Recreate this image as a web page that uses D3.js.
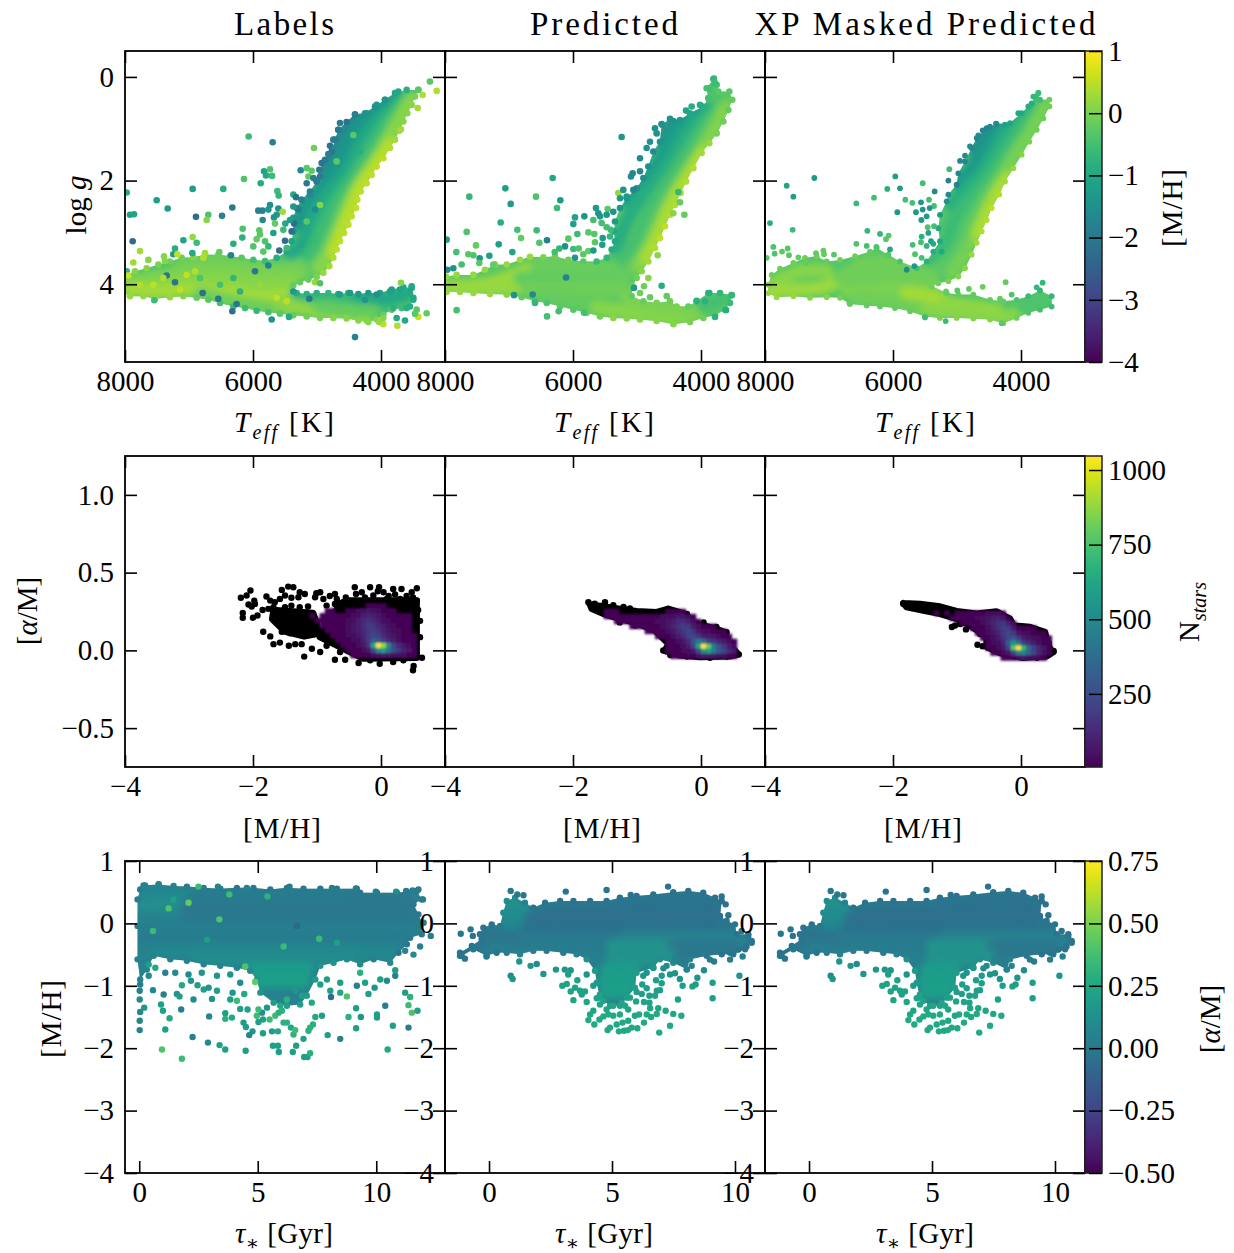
<!DOCTYPE html>
<html><head><meta charset="utf-8">
<style>html,body{margin:0;padding:0;background:#fff}svg{display:block}</style>
<script src="https://cdn.jsdelivr.net/npm/d3@7"></script></head><body>
<div id="chart"></div>
<script>
// ---- tick labels / titles
const titles = ["Labels","Predicted","XP Masked Predicted"];
const teffTicks = [8000,6000,4000];
const loggTicks = [0,2,4];
const mhTicks = [-4,-2,0];
const alphaTicks = [-0.5,0,0.5,1];
const ageTicks = [0,5,10];
const mhYTicks = [-4,-3,-2,-1,0,1];
const cbMhTicks = [-4,-3,-2,-1,0,1];
const cbCountTicks = [250,500,750,1000];
const cbAlphaTicks = [-0.5,-0.25,0,0.25,0.5,0.75];

// ---- Kiel diagram: stars along the cloud boundary [Teff,logg,[M/H]]
const hrEdgeLabels = [[3417,.25,-.3],[3469,.38,0],[3521,.54,.1],[3589,.70,.1],[3651,.86,.1],[3714,1.04,.2],[3781,1.21,.3],[3860,1.37,.4],[3964,1.57,.5],[4068,1.73,.5],[4146,1.89,.5],[4224,2.05,.5],[4318,2.21,.5],[4370,2.37,.5],[4391,2.53,.5],[4458,2.69,.5],[4510,2.85,.5],[4578,3.01,.5],[4641,3.17,.5],[4693,3.33,.5],[4745,3.49,.4],[4807,3.65,.3],[4901,3.78,.2],[5005,3.86,0],[5135,3.91,-.2],[5266,3.96,-.2],[5370,4.02,-.2],[5318,4.17,-.9],[5161,4.19,-.8],[5005,4.17,-.8],[4823,4.17,-.7],[4667,4.19,-1],[4510,4.17,-1],[4354,4.19,-1.3],[4198,4.17,-1.3],[4016,4.17,-1.2],[3833,4.10,-1.1],[3651,4.06,-1],[3521,4.07,-1],[3495,4.26,-1],[3547,4.43,-.9],[3677,4.46,-.6],[3833,4.49,-.3],[3964,4.59,-.2],[4068,4.68,.1],[4198,4.73,.1],[4354,4.70,.1],[4537,4.66,.1],[4745,4.65,.1],[4953,4.65,0],[5161,4.62,-.1],[5370,4.60,-.2],[5578,4.57,-.3],[5760,4.54,-.5],[5943,4.51,-.7],[6125,4.46,-.6],[6307,4.43,-.6],[6516,4.36,-.5],[6698,4.30,-.3],[6880,4.26,-.2],[7088,4.23,.1],[7297,4.25,.2],[7531,4.28,.2],[7713,4.23,.2],[7922,4.23,.2],[7984,4.14,.2],[7984,3.82,.3],[7844,3.75,.1],[7661,3.69,.1],[7479,3.62,0],[7297,3.56,-.1],[7115,3.49,-.1],[6932,3.48,.1],[6750,3.43,.1],[6542,3.43,-.1],[6359,3.46,-.2],[6177,3.49,-.3],[5995,3.53,-.5],[5812,3.55,-.6],[5630,3.49,-.9],[5474,3.37,-1],[5396,3.17,-1.1],[5370,2.98,-1.3],[5370,2.72,-1.3],[5318,2.53,-1.6],[5240,2.37,-1.8],[5110,2.21,-1.9],[5005,2.02,-2],[4964,1.79,-2],[4875,1.60,-2],[4771,1.44,-2],[4719,1.21,-2],[4667,1.02,-2],[4537,.87,-2.1],[4406,.72,-1.9],[4250,.70,-1.5],[4094,.57,-1.5],[3938,.44,-1.3],[3781,.31,-1.1],[3599,.25,-.8]];
const hrEdgePred = [[3797,.03,-.6],[3755,.15,-.5],[3729,.28,-.3],[3557,.28,-.3],[3511,.44,-.2],[3573,.64,-.2],[3651,.86,-.1],[3755,1.09,0],[3870,1.28,.2],[3990,1.47,.3],[4120,1.76,.4],[4234,2.02,.4],[4318,2.24,.4],[4406,2.47,.4],[4484,2.66,.4],[4563,2.88,.5],[4641,3.11,.5],[4719,3.30,.4],[4823,3.56,.3],[4927,3.75,.1],[5005,3.88,-.1],[5068,4.04,-.1],[5083,4.23,-.2],[4901,4.33,-.2],[4693,4.36,0],[4484,4.33,-.1],[4380,4.43,0],[4198,4.43,-.2],[4068,4.33,-.6],[3886,4.17,-.7],[3703,4.17,-.7],[3521,4.21,-.6],[3547,4.36,-.6],[3625,4.49,-.6],[3781,4.60,-.4],[3964,4.65,-.1],[4172,4.73,0],[4432,4.77,.1],[4693,4.71,.1],[4953,4.68,.1],[5161,4.66,.1],[5370,4.65,.1],[5578,4.62,-.1],[5786,4.55,-.2],[5995,4.49,-.3],[6203,4.43,-.3],[6411,4.36,-.4],[6594,4.33,-.4],[6802,4.25,-.2],[7036,4.20,.1],[7297,4.19,.2],[7557,4.17,.2],[7766,4.15,.2],[7974,4.15,.2],[7984,3.85,.2],[7818,3.82,.2],[7557,3.82,.2],[7375,3.72,.2],[7219,3.62,.1],[7036,3.62,.2],[6828,3.53,.2],[6672,3.47,.2],[6464,3.48,0],[6281,3.46,-.1],[6073,3.53,-.1],[5839,3.56,-.3],[5630,3.56,-.6],[5474,3.49,-.7],[5396,3.33,-.9],[5344,3.17,-1],[5359,2.98,-1],[5344,2.79,-1.3],[5266,2.53,-1.4],[5161,2.34,-1.4],[5005,2.15,-1.5],[4901,1.95,-1.5],[4823,1.73,-1.5],[4745,1.44,-1.6],[4641,1.25,-1.5],[4615,.92,-1.5],[4484,.81,-1.5],[4328,.83,-1.3],[4172,.70,-1],[3964,.57,-.8],[3886,.41,-.5],[3912,.22,-.5]];
const hrEdgeMasked = [[3729,.31,-.6],[3703,.44,-.6],[3557,.44,-.1],[3557,.57,-.1],[3651,.80,-.1],[3755,1.02,-.1],[3870,1.25,0],[3990,1.50,.1],[4120,1.76,.2],[4250,2.02,.3],[4339,2.27,.4],[4458,2.53,.5],[4537,2.76,.4],[4615,2.98,.4],[4693,3.20,.3],[4771,3.43,.2],[4875,3.69,.1],[4979,3.85,.1],[5135,3.94,0],[5292,3.98,-.1],[5396,4.04,-.1],[5161,4.17,-.2],[4979,4.20,-.2],[4745,4.20,-.2],[4484,4.30,-.2],[4276,4.33,-.2],[4068,4.30,-.4],[3886,4.23,-.6],[3703,4.12,-.7],[3521,4.23,-.7],[3521,4.43,-.6],[3703,4.49,-.5],[3886,4.55,-.4],[4068,4.65,-.1],[4276,4.75,0],[4484,4.68,.1],[4745,4.66,.1],[5005,4.65,.1],[5266,4.65,0],[5500,4.62,-.2],[5734,4.52,-.2],[5969,4.46,-.2],[6203,4.43,-.2],[6411,4.41,-.2],[6672,4.38,-.3],[6828,4.26,0],[7036,4.25,.1],[7297,4.26,.1],[7557,4.23,.2],[7818,4.25,.2],[7948,4.17,.2],[7948,4.01,.1],[7896,3.82,-.1],[7766,3.70,-.1],[7557,3.59,-.1],[7375,3.49,-.1],[7193,3.46,-.1],[7036,3.56,-.2],[6828,3.53,-.1],[6594,3.46,-.1],[6359,3.37,-.2],[6255,3.30,-.3],[6073,3.43,-.3],[5891,3.56,-.4],[5630,3.69,-.5],[5474,3.56,-.8],[5370,3.37,-.9],[5266,3.17,-1],[5292,2.92,-1],[5266,2.66,-1.3],[5161,2.40,-1.5],[5135,2.27,-1.6],[5005,2.08,-1.8],[4979,1.86,-1.7],[4875,1.63,-1.7],[4771,1.37,-1.7],[4693,1.18,-1.7],[4537,.99,-1.7],[4380,.91,-1.6],[4172,.89,-1.1],[3990,.70,-1],[3833,.51,-.9],[3781,.38,-.6]];
// ---- Kiel diagram: dense ridges [ [M/H], [[Teff,logg],...] ]
const hrRidgesLabels = [
[-1.75,[[4016,.54],[4432,.83],[4641,1.18],[4797,1.57],[4901,1.89]]],
[-1.35,[[3781,.41],[4146,.70],[4458,1.12],[4667,1.63],[4901,2.08],[5188,2.47],[5318,2.85]]],
[-1.0,[[3651,.41],[4042,.83],[4328,1.31],[4537,1.82],[4797,2.21],[5031,2.60],[5214,3.17],[5396,3.43]]],
[-0.6,[[3573,.38],[3886,.83],[4172,1.37],[4432,1.92],[4693,2.37],[4901,2.85],[5083,3.37],[5318,3.65]]],
[-0.25,[[3547,.44],[3807,.92],[4042,1.44],[4302,1.92],[4563,2.47],[4745,2.98],[4901,3.43],[5110,3.75]]],
[0.1,[[3521,.44],[3729,.89],[3938,1.37],[4198,1.89],[4432,2.34],[4589,2.85],[4745,3.30],[4953,3.69]]],
[0.45,[[3860,1.31],[4068,1.70],[4302,2.08],[4458,2.53],[4641,3.04],[4745,3.37]]],
[-0.1,[[7141,3.62],[6568,3.53],[5995,3.62],[5578,3.69],[5266,3.65]]],
[0.0,[[7922,3.94],[7401,3.82],[6880,3.75],[6359,3.75],[5786,3.82],[5266,3.82]]],
[0.1,[[7922,4.07],[7401,4.01],[6880,3.91],[6307,3.94],[5734,4.01],[5422,3.94]]],
[0.3,[[7922,4.10],[7401,4.14],[6932,4.10],[6359,4.17],[5839,4.26],[5474,4.20]]],
[-0.1,[[6828,4.17],[6359,4.33],[5891,4.43],[5422,4.52]]],
[0.15,[[5578,4.33],[5161,4.49],[4693,4.59],[4224,4.66]]],
[-0.7,[[5318,4.17],[4849,4.26],[4432,4.36],[3964,4.33],[3599,4.20]]],
[-1.0,[[4328,4.26],[3912,4.26],[3599,4.17]]],
[-0.2,[[4953,4.43],[4537,4.49],[4120,4.52]]]
];
const hrPointsLabels = [
[6068,1.15,-.6],[5693,1.26,-1.9],[5047,1.37,-.1],[4797,1.33,-2.1],[6141,1.97,-.4],[5828,1.82,-1.1],[5734,1.78,-.4],[5797,1.90,-1],[5703,1.91,-.6],[5880,2.05,-.9],[6943,2.16,-1.2],[6464,2.16,-.9],[7974,2.23,-.9],[5620,2.20,-.6],[5599,2.29,-.7],[7505,2.38,-1.2],[7333,2.54,-1.3],[6323,2.52,-2],[5734,2.47,-1.5],[5604,2.54,-1.5],[5917,2.58,-1.8],[5854,2.58,-1.8],[5760,2.56,-1.4],[5536,2.60,.3],[7922,2.66,-1.2],[7859,2.65,-1.1],[6891,2.70,-2.3],[6484,2.68,-1.8],[6698,2.66,-.4],[6724,2.76,.1],[5672,2.71,-1.4],[5849,2.76,-1.6],[5630,2.66,-1.4],[5370,2.27,-.9],[5328,2.32,-2.1],[5255,1.80,-1.7],[5161,1.76,-.3],[5083,1.81,-.3],[5135,1.92,-.2],[5161,2.05,-2],[5656,2.83,-.2],[6161,2.93,-.4],[5901,2.96,-.3],[5495,2.83,-1],[5526,2.95,-.6],[5359,2.83,-2.2],[5396,2.98,-2.2],[7880,3.17,-2.3],[7088,3.15,-1.1],[6943,3.09,.2],[6880,3.20,-.6],[6167,3.10,-.8],[6307,3.22,-.9],[5943,3.13,-.2],[5812,3.17,-.4],[5682,3.01,-1.2],[5500,3.16,-2.2],[5891,3.04,-.3],[7219,3.31,-.9],[7766,3.36,.3],[5995,3.27,-.4],[5760,3.27,-.7],[5589,3.35,-2.2],[5839,3.37,-.3],[5474,3.30,-.6],[7391,3.46,.1],[7245,3.42,-1.3],[7182,3.42,.5],[6948,3.40,-1],[6526,3.38,-.2],[6750,3.40,.3],[6344,3.44,-1.8],[7870,3.58,.3],[7635,3.53,.1],[7375,3.55,.1],[5760,3.64,-1.8],
[3688,3.97,.1],[3521,4.04,-1],[5031,3.96,.2],[4953,3.98,-.4],[5370,4.14,-1.3],[5120,4.28,-2],[3287,4.56,-.2],[3417,4.63,.6],[3443,4.49,-.3],[3469,4.57,-.3],[3755,4.65,-1],[3625,4.70,-1],[3745,4.80,.4],[3964,4.77,.5],[4031,4.73,.2],[4406,5.02,-1.8],[5708,4.68,-1.5],[5438,4.63,-1],[6323,4.52,-2.2],[3235,.09,-.3],[3130,.27,.4],[3349,.35,.4],[3427,.60,.3],[3417,.25,-.3],[3688,1.01,.3],[7974,3.75,-.8],[7948,3.83,.6],[7349,3.83,-2.1],[7219,3.96,-2.1],[6786,4.17,-2.2],[6542,4.28,-2],[6255,4.38,-2],[7542,4.31,-.6],
[4641,.89,-1.9],[4667,1.02,-2],[4745,1.21,-1.9],[4823,1.49,-1.9],[4927,1.66,-2.1],[4953,1.92,-1.9],[5057,1.95,-1.9],[5005,2.0,-1.9],[4406,.73,-1.9],[4224,.70,-1.5],[4068,.54,-1.4],[3938,.44,-1.4],[3729,.28,-1],[5240,2.37,-1.8],[5292,2.56,-1.9],[5370,2.50,-1.3],[5110,2.27,-1.7],[5422,2.76,-1.2],
[4641,4.20,-1.2],[4484,4.17,-1.3],[4250,4.30,-1.4],[4068,4.20,-1.5],[3860,4.14,-1.2],[3703,4.10,-1.1],[3547,4.17,-1],[3495,4.30,-1],[3599,4.46,-.9],[3807,4.46,-.8],[3964,4.65,.1],[4224,4.70,.1],
[6828,3.88,-.4],[6307,3.88,-.7],[5891,4.01,.2],[5630,4.26,.5],[5474,4.33,.5],[7036,3.82,.5],[7141,4.10,.5],[7557,4.01,.5],[7766,4.01,.4],[6516,4.01,-.5],[6203,4.14,-.8],[5969,3.75,-2],[6776,3.49,.4],[6906,3.75,.4],[7401,3.88,.4],
[4432,1.12,-.3],[4693,1.63,-.3],[4328,1.44,-.9],[4953,2.47,.1],[5031,2.56,-1.6],[5161,2.79,-.3],[5161,2.98,-1],[5240,3.24,-1]
];
const hrRidgesPred = [
[-1.5,[[4068,.64],[4484,.93],[4641,1.25]]],
[-1.2,[[3860,.60],[4224,.86],[4537,1.31],[4745,1.76],[4953,2.08],[5161,2.40]]],
[-0.9,[[3729,.54],[4068,.86],[4328,1.31],[4537,1.76],[4797,2.15],[5057,2.53],[5240,2.98],[5318,3.30]]],
[-0.5,[[3625,.48],[3912,.89],[4172,1.37],[4432,1.89],[4693,2.34],[4927,2.85],[5110,3.37],[5422,3.65]]],
[-0.25,[[3599,.48],[3807,.92],[4042,1.44],[4302,1.95],[4563,2.47],[4745,2.92],[4927,3.43],[5161,3.75]]],
[0.05,[[3625,.60],[3755,.99],[3990,1.44],[4198,1.89],[4432,2.34],[4615,2.85],[4797,3.30],[4979,3.65]]],
[0.35,[[3964,1.47],[4172,1.86],[4380,2.27],[4537,2.66],[4693,3.11],[4849,3.49]]],
[-0.4,[[3807,.15],[3833,.31],[3755,.41]]],
[0.25,[[7922,4.04],[7401,4.01],[7036,3.88],[6672,3.69]]],
[0.2,[[7922,4.07],[7349,4.08],[6880,4.07]]],
[-0.15,[[6568,3.62],[6151,3.62],[5734,3.69],[5370,3.69]]],
[-0.2,[[6828,3.88],[6307,3.85],[5786,3.88],[5161,3.82]]],
[-0.1,[[6724,4.10],[6255,4.10],[5734,4.10],[5214,4.07]]],
[-0.2,[[6464,4.26],[6047,4.30],[5630,4.36],[5214,4.46],[4849,4.52]]],
[0.1,[[5630,4.46],[5161,4.55],[4693,4.62],[4328,4.65],[4068,4.55]]],
[0.0,[[5161,4.26],[4849,4.39],[4432,4.46],[4172,4.52]]],
[-0.5,[[3964,4.43],[3755,4.33],[3573,4.26]]]
];
const hrPointsPred = [
[5240,1.16,-1.4],[6318,1.95,-1],[7057,2.15,-1.2],[7620,2.31,-.7],[6578,2.31,-.4],[6198,2.38,-1.3],[6974,2.45,-1.3],[6250,2.53,-.6],[5641,2.53,-1.3],[5458,2.55,-.3],[5969,2.71,-1.1],[5823,2.69,-1.4],[5995,2.84,-1.2],[5682,2.76,-.5],[7130,2.81,-.9],[6870,2.95,-.5],[6568,2.96,-.6],[7661,2.99,-.4],[7974,3.14,-1.2],[6812,3.11,-.2],[6406,3.15,-1.9],[6526,3.20,-.4],[7161,3.23,-1.2],[7516,3.25,-.2],[6073,3.12,-.3],[5932,3.03,-.6],[6125,3.27,-1.5],[6214,3.31,-.7],[6286,3.38,-.5],[5995,3.32,-.6],[5911,3.31,-.4],[6948,3.38,-1.1],[7823,3.38,-.5],[7307,3.45,-1.2],[7458,3.50,-1.4],[7557,3.44,-.4],[7635,3.42,-.3],[7870,3.69,-1.5],[7740,3.62,-.5],[7963,3.72,-1.6],[7245,3.62,-.2],[7464,3.59,-.3],[5969,3.49,-1.4],[5839,3.42,-.3],[5760,3.36,-.2],[5682,3.35,-1.3],[5542,3.24,-1.2],[5536,3.11,-1.3],[5656,3.19,-.3],[5760,3.00,-.3],[5667,3.03,-.3],[5422,3.08,-.7],[5411,2.95,-.6],[5552,2.82,-.5],[5474,2.90,-.5],
[5292,2.24,.2],[5214,2.18,-1.4],[5057,2.18,-1.7],[5266,2.34,-1.3],[5161,2.31,-1.3],[5068,1.86,-1.7],[5094,1.92,-1.6],[4953,1.57,-1.6],[4849,1.37,-1.5],[4797,1.25,-1.5],[4719,.99,-1.5],[4693,1.09,-1.5],[4615,.91,-1.5],[4432,.85,-1.5],[4234,.65,-1.1],[4146,.57,-.9],[4016,.54,-.9],[3807,.04,-.7],[3781,.12,-.6],[3870,.22,-.5],
[4354,2.22,-.7],[4328,2.42,-.2],[4260,2.66,-.2],[4432,2.63,.1],[4677,3.44,.1],[4823,3.88,.1],[4891,4.04,-.1],[4615,4.03,-.9],[5047,4.07,-1.3],[4536,4.23,-.2],[4797,4.25,-.2],[4953,4.17,-.1],[3870,4.17,-.9],[4068,4.32,-.8],[3938,4.33,-.8],[7818,4.50,-.5],[6406,4.62,-.5],[6224,4.52,-.5],[5828,4.55,-.5],[6594,4.36,-.7],[6109,3.87,-1.8],[6630,4.20,-1.6],[6922,4.21,-1.5],[3781,4.63,-.8],[3609,4.50,-.9],[3521,4.21,-.7],[5370,2.60,-1.5],[5474,2.66,-1.4],[5578,2.69,-1.3],[5604,2.63,-1.4],[4953,1.82,-1.7]
];
const hrRidgesMasked = [
[-1.6,[[4354,.99],[4589,1.15],[4719,1.44]]],
[-1.3,[[4068,.80],[4406,1.12],[4641,1.50],[4849,1.86],[4979,2.08]]],
[-0.9,[[3755,.54],[4146,.92],[4380,1.37],[4589,1.82],[4849,2.15],[5083,2.47]]],
[-0.6,[[3651,.51],[3964,.92],[4250,1.44],[4484,1.89],[4745,2.27],[5005,2.66],[5161,3.17],[5396,3.56]]],
[-0.3,[[3625,.54],[3860,.99],[4094,1.44],[4328,1.89],[4589,2.34],[4797,2.79],[5005,3.37],[5318,3.72]]],
[-0.05,[[3625,.57],[3860,1.12],[4068,1.50],[4302,2.02],[4484,2.40],[4667,2.85],[4849,3.37],[5083,3.78]]],
[0.35,[[4198,1.95],[4380,2.27],[4537,2.66],[4667,3.04]]],
[0.1,[[7870,3.98],[7453,3.75],[7036,3.75]]],
[0.25,[[7896,4.14],[7453,4.10],[7036,4.04],[6724,3.82]]],
[-0.1,[[6568,3.62],[6151,3.56],[5786,3.69],[5422,3.82]]],
[-0.1,[[6828,3.88],[6307,3.82],[5839,3.88],[5370,3.94]]],
[0.0,[[6724,4.14],[6255,4.10],[5839,4.10],[5318,4.17]]],
[0.3,[[5786,4.17],[5474,4.23],[5161,4.33]]],
[-0.1,[[6568,4.30],[6099,4.33],[5630,4.49]]],
[0.1,[[5474,4.49],[4953,4.55],[4328,4.64],[4016,4.55]]],
[0.15,[[5161,4.36],[4745,4.43],[4380,4.49]]],
[-0.4,[[3964,4.46],[3755,4.36],[3573,4.33]]]
];
const hrPointsMasked = [
[7229,1.95,-1.3],[7661,2.10,-1.1],[7557,2.31,-1.2],[5964,1.92,-1.2],[6089,2.16,-.8],[5891,2.15,-1.3],[5536,2.05,-.5],[5349,2.21,-1.6],[5120,1.78,-.6],[6297,2.33,-.5],[6573,2.44,-.6],[5807,2.37,-.5],[5698,2.43,-.5],[5563,2.42,-1.4],[5437,2.37,-.5],[5359,2.49,-.5],[5536,2.56,-1.4],[5427,2.53,-1.4],[5641,2.61,-1.3],[5932,2.61,-1.4],[5557,2.76,-1.3],[5474,2.69,-1.3],[7922,2.82,-.9],[7568,2.95,-.6],[6401,2.97,-.7],[6203,3.03,-.7],[6068,3.06,-.3],[6110,3.13,-.3],[6573,3.22,-.4],[6411,3.26,-.5],[6260,3.28,-.4],[6047,3.33,-1],[7870,3.28,-.4],[7646,3.31,-.3],[7849,3.41,-.4],[7734,3.37,-.3],[7625,3.44,-.3],[7974,3.49,-.3],[7203,3.40,-.2],[7088,3.35,-.2],[7078,3.42,-.2],[6922,3.43,-.3],[7479,3.48,-.2],[7349,3.59,-.2],
[5693,3.24,-.5],[5474,3.26,-.7],[5563,3.19,-.5],[5552,3.08,-.8],[5448,3.01,-1.1],[5406,3.17,-1.2],[5370,3.22,-1],[5458,2.90,-.4],[5359,2.88,-.5],[5240,3.37,-1],[5656,3.42,-.4],[5552,3.49,-.5],[5667,3.65,-1.3],[5786,3.72,-1.6],
[5135,2.00,-1.8],[4953,1.62,-1.7],[4875,1.52,-1.6],[4797,1.34,-1.6],[4667,1.13,-1.6],[4599,1.03,-1.7],[4484,.96,-1.7],[4391,.90,-1.6],[4250,.92,-1.2],[4042,.70,-1],[3886,.57,-.9],[3807,.38,-.7],[3729,.31,-.6],
[4240,3.96,-.2],[3662,3.97,-.7],[3755,4.06,-.7],[4599,4.05,-.1],[4813,4.09,-.2],[4995,4.12,-.3],[5172,4.14,-.2],[4146,4.20,-.4],[4328,4.28,-.2],[6682,4.36,-.2],[5177,4.71,-.6],[5500,4.64,-.6],[4302,4.75,-.3]
];

// ---- [alpha/M] vs [M/H]: black underlying scatter and 2D-histogram counts
const alphaCoreLabels = [
[[-1.68,.26],[-1.06,.24],[-.95,.11],[-1.2,.09],[-1.5,.12],[-1.7,.2],[-1.68,.26]],
[[-.641,.30],[-.537,.32],[.557,.32],[.557,-.047],[-.277,-.053],[-.954,.085],[-.641,.30]]
];
const alphaCorePred = [[[-1.735,.295],[-1.526,.282],[-1.266,.267],[-1.005,.252],[-.693,.246],[-.511,.267],[-.25,.235],[-.094,.171],[.192,.145],[.375,.117],[.401,.064],[.505,.011],[.583,-.026],[.453,-.038],[-.016,-.043],[-.328,-.032],[-.563,-.004],[-.511,.043],[-.719,.128],[-1.005,.175],[-1.266,.203],[-1.526,.235],[-1.708,.267],[-1.735,.295]]];
const alphaCoreMasked = [[[-1.839,.303],[-1.578,.299],[-1.266,.282],[-1.005,.252],[-.693,.235],[-.38,.250],[-.172,.203],[-.12,.160],[.14,.150],[.375,.117],[.401,.075],[.453,.011],[.505,-.011],[.401,-.038],[.01,-.047],[-.328,-.017],[-.537,.021],[-.537,.085],[-.797,.160],[-1.005,.203],[-1.266,.235],[-1.526,.256],[-1.787,.278],[-1.839,.303]]];
const alphaPointsLabels = [
[-2.04,.385],[-2.10,.353],[-2.19,.338],[-1.98,.32],[-2.07,.295],[-2.02,.282],[-1.97,.299],[-2.16,.241],[-2.16,.21],[-2.0,.21],[-1.93,.224],[-1.85,.26],[-1.79,.346],[-1.73,.32],[-1.66,.31],[-1.55,.389],[-1.45,.41],[-1.37,.406],[-1.27,.374],[-1.19,.363],[-1.29,.342],[-1.40,.338],[-1.50,.353],[-1.58,.331],[-1.68,.278],[-1.76,.267],[-1.50,.278],[-1.40,.288],[-1.27,.278],[-1.14,.282],[-1.01,.367],[-.95,.374],[-1.03,.342],[-.72,.363],[-.69,.331],[-.85,.288],[-.72,.299],[-.59,.31],[-.41,.406],[-.39,.363],[-.30,.374],[-.17,.406],[-.03,.406],[.04,.374],[.19,.395],[.32,.395],[.56,.40],[.48,.374],[-.12,.353],[.09,.331],[.30,.331],[.56,.32],[.64,-.047],[.50,-.128],[.51,-.10],[.35,-.064],[.19,-.075],[-.02,-.086],[-.17,-.064],[-.35,-.081],[-.56,-.06],[-.72,-.06],[-.95,-.01],[-1.08,.01],[-1.20,-.04],[-1.24,.04],[-1.34,.04],[-1.44,.03],[-1.58,.05],[-1.68,.04],[-1.73,.09],[-1.84,.12],[-1.55,.12],[-1.42,.11],[-1.21,.10],[-1.01,.11],[-.85,.03],[-.64,-.01],[-.43,-.02],[.61,.085],[.61,.19],[.58,.26],
[-.25,.34],[-.05,.38],[.12,.35],[.22,.36],[.40,.35],[.50,.34],[-.55,.34],[-.9,.33],[-.8,.35]
];
const alphaPointsPred = [
[-1.76,.31],[-1.66,.30],[-1.50,.31],[-1.37,.29],[-1.21,.28],[-1.11,.27],[-1.27,.18],[-1.06,.18],[-1.03,.16],[-.80,.15],[-.67,.13],[-.56,.10],[-.59,-.0],[-.48,-.03],[-.22,-.04],[.14,-.047],[.40,-.04],[.59,-.026],[.45,.05],[.40,.117],[.24,.15],[.04,.18],[-.51,.267],[-.22,.235],[-.15,.19],[-.80,.24]
];
const alphaPointsMasked = [
[-1.08,.15],[-1.03,.16],[-.86,.135],[-.68,.036],[-.60,.027],[-.64,.105],[-.95,.17],[.43,.05],[.51,-.004],[.04,-.047],[.25,-.047],[-1.84,.30],[-1.70,.29]
];
const alphaBinsLabels = {x0:-1.12, y0:.304};
const alphaBinsPred = {x0:-1.52, y0:.267};
const alphaBinsMasked = {x0:-1.52, y0:.256};
const countsLabels = [
[0,0,0,0,0,0,0,0,0,0,0,8,10,8,5],
[0,0,0,3,5,0,0,8,12,25,40,55,50,30,15,10,5],
[3,0,4,5,6,8,10,18,30,50,80,110,90,60,35,20,10,8,5,3],
[0,4,5,6,8,12,18,30,50,80,120,150,130,85,50,35,20,12,8,4],
[0,0,3,5,8,12,20,35,60,90,130,180,170,120,75,50,30,18,10,5],
[0,0,0,3,5,10,15,30,55,85,120,170,190,150,100,65,40,25,12,6],
[0,0,0,0,3,6,12,22,40,70,110,170,220,190,130,85,55,30,15,8,3],
[0,0,0,0,0,3,6,12,28,50,90,170,300,290,190,120,75,40,20,8,3],
[0,0,0,0,0,0,3,6,14,28,55,150,620,1040,880,500,240,130,60,25,5],
[0,0,0,0,0,0,0,3,6,12,25,60,240,520,600,420,260,170,110,60,20],
[0,0,0,0,0,0,0,0,3,5,8,15,30,50,60,60,50,40,30,20,8]
];
const countsPred = [
[4,5,6,0,0,0,0,0,0,0,0,0,5,8,8,5],
[3,5,8,8,10,8,8,8,10,12,20,30,40,50,70,55,25,5],
[0,0,3,4,6,8,10,12,15,20,30,40,60,90,130,140,90,30,8],
[0,0,0,0,0,3,5,6,10,15,20,35,60,100,150,200,170,80,25,10,5,3],
[0,0,0,0,0,0,0,0,3,6,12,20,40,70,120,180,220,150,60,40,30,20,10,3],
[0,0,0,0,0,0,0,0,0,0,5,8,20,40,75,130,210,230,150,90,80,60,35,15,5],
[0,0,0,0,0,0,0,0,0,0,0,0,5,15,35,70,130,280,430,350,200,150,110,70,30,10],
[0,0,0,0,0,0,0,0,0,0,0,0,5,10,20,40,90,220,620,1040,800,450,280,170,90,40],
[0,0,0,0,0,0,0,0,0,0,0,0,3,8,15,25,40,70,240,520,600,450,300,220,130,60],
[0,0,0,0,0,0,0,0,0,0,0,0,0,3,5,8,12,20,40,60,70,60,50,30,15,5]
];
const countsMasked = [
[0,0,3,0,4,0,5,6,8,10,12,18,30,45,40,15],
[0,0,0,0,0,3,5,8,10,15,22,35,55,90,110,70,20],
[0,0,0,0,0,0,0,3,6,10,15,30,60,100,150,170,90,25],
[0,0,0,0,0,0,0,0,0,4,8,20,45,85,140,200,190,80,20,8,6,3],
[0,0,0,0,0,0,0,0,0,0,5,12,30,60,110,180,240,170,60,35,25,15,8,3],
[0,0,0,0,0,0,0,0,0,0,0,5,18,40,80,150,240,280,170,85,65,45,25,10,3],
[0,0,0,0,0,0,0,0,0,0,0,0,8,22,50,110,320,560,420,200,140,90,50,20,5],
[0,0,0,0,0,0,0,0,0,0,0,0,4,12,30,70,240,780,1040,700,360,220,120,60,15],
[0,0,0,0,0,0,0,0,0,0,0,0,0,5,12,25,60,220,460,480,350,230,120,50,10],
[0,0,0,0,0,0,0,0,0,0,0,0,0,0,0,5,10,20,40,60,50,40,25,10]
];

// ---- [M/H] vs age: boundary stars [age,mh,[alpha/M]]
const ageEdgeLabels = [[.04,.545,.02],[.25,.61,.05],[.82,.625,.05],[1.45,.60,.05],[2.01,.59,.02],[2.72,.57,.02],[3.42,.556,0],[4.12,.57,0],[4.82,.57,0],[5.53,.545,0],[6.23,.57,0],[6.93,.556,0],[7.64,.556,0],[8.34,.556,0],[9.18,.556,0],[9.32,.49,0],[10.03,.49,0],[10.87,.49,0],[11.29,.51,0],[11.71,.52,0],[11.92,.385,0],[11.57,.305,0],[11.78,.145,0],[11.92,.01,0],[11.92,-.175,0],[11.43,-.23,0],[11.29,-.335,0],[10.94,-.47,0],[10.59,-.63,.1],[9.89,-.576,.05],[9.32,-.656,.1],[8.76,-.576,.1],[8.20,-.63,.15],[7.64,-.68,.15],[7.43,-.90,.18],[7.07,-1.16,.2],[6.79,-1.30,.2],[6.23,-1.32,.2],[5.67,-1.27,.2],[5.11,-1.11,.15],[4.96,-.90,.15],[4.68,-.76,.1],[4.12,-.71,.05],[3.42,-.68,.05],[2.72,-.656,.05],[2.01,-.60,.05],[1.31,-.576,.05],[.61,-.52,.05],[.32,-.74,.05],[.04,-.90,.05],[-.07,-.576,.05],[-.07,-.04,.02],[-.07,.385,.02]];
const ageEdgePred = [[.58,.17,.1],[.72,.36,.1],[1.06,.41,.1],[1.46,.33,.05],[1.80,.25,-.02],[2.28,.33,-.02],[2.89,.36,-.03],[3.43,.36,-.03],[4.11,.36,-.03],[4.78,.36,-.03],[5.32,.41,-.03],[6.0,.44,-.03],[6.68,.465,-.03],[7.49,.50,-.03],[8.10,.52,-.03],[8.71,.49,-.03],[9.19,.41,-.03],[9.46,.36,-.03],[9.39,.12,-.03],[9.66,.04,-.03],[10.0,-.015,-.02],[10.07,-.175,-.02],[10.54,-.175,-.02],[10.68,-.28,-.02],[10.41,-.416,-.02],[9.93,-.495,-.02],[9.46,-.495,-.02],[8.85,-.52,0],[8.17,-.576,.05],[8.04,-.736,.1],[7.49,-.63,.1],[6.95,-.576,.12],[6.68,-.71,.15],[6.0,-.79,.18],[5.93,-1.03,.2],[5.60,-1.19,.2],[5.32,-1.32,.22],[4.92,-1.32,.22],[4.51,-1.19,.2],[4.38,-.95,.18],[4.31,-.76,.18],[3.97,-.576,.12],[3.56,-.495,.05],[3.02,-.47,.02],[2.34,-.44,.02],[1.80,-.44,.02],[1.26,-.495,.05],[.72,-.47,.02],[.31,-.47,-.02],[-.10,-.52,-.02],[-.64,-.416,-.02],[-1.11,-.52,-.02],[-1.18,-.47,-.02],[-.70,-.36,-.02],[-.30,-.255,-.02],[-.37,-.175,-.02],[-.23,-.07,-.02],[.11,-.015,-.02],[.45,-.04,0]];
const ageEdgeMasked = ageEdgePred;
// ---- [M/H] vs age: dense bands [ [alpha/M], [[age,mh],...] ]
const ageRidgesLabels = [
[.08,[[.25,.465],[2.4,.465]]],[.02,[[2.4,.465],[9.04,.465]]],[.0,[[9.04,.40],[11.15,.39]]],
[.12,[[.18,.278],[2.0,.278]]],[.0,[[2,.278],[11.43,.278]]],
[.05,[[.18,.09],[2,.09]]],[.0,[[2,.09],[11.64,.09]]],
[.03,[[.18,-.095],[11.57,-.095]]],[.02,[[.18,-.28],[11.0,-.28]]],
[.08,[[.18,-.44],[10.73,-.44]]],[.1,[[2.43,-.576],[9.04,-.576]]],
[.18,[[4.82,-.736],[7.07,-.736]]],[.2,[[5.11,-.923],[6.93,-.923]]],
[.05,[[.18,-.44],[.18,-.8]]]
];
const agePointsLabels = [
[.04,-.98,.02],[.02,-1.08,.05],[.02,-1.22,.1],[.04,-1.42,.08],[.02,-1.56,.08],[.02,-1.71,.05],[.21,-1.35,.15],[.58,-1.07,.08],[1.03,-1.14,.05],[.92,-1.30,.2],[1.0,-1.40,.22],[1.28,-1.52,.25],[1.10,-1.70,.2],[.96,-2.02,.4],[1.80,-2.17,.35],[1.77,-1.38,.03],[1.59,-1.13,.15],[1.70,-1.17,.2],[2.25,-1.82,.05],[2.29,-1.22,.1],[1.80,-.99,.25],[2.18,-.92,.15],[2.46,-.99,.2],[2.90,-1.91,.1],[3.39,-1.95,.2],[3.63,-2.02,.2],[4.49,-2.04,.2],[2.95,-1.49,.08],[3.07,-1.21,.15],[2.72,-1.06,.2],[2.93,-1.03,.15],[3.28,-1.08,.2],[3.63,-1.44,.2],[3.63,-1.53,.3],[3.91,-1.51,.25],[3.94,-1.11,.15],[4.12,-1.24,.35],[3.84,-1.22,.2],[4.26,-1.37,.2],[4.57,-1.38,.2],[4.40,-1.59,.2],[4.50,-1.66,.2],[4.78,-1.73,.15],[4.64,-1.79,.08],[5.22,-1.76,.2],[5.60,-1.73,.2],[5.85,-1.73,.25],[5.03,-1.58,.2],[5.22,-1.54,.2],[5.50,-1.54,.35],[6.09,-1.59,.3],[6.23,-1.59,.3],[6.40,-1.67,.25],[6.51,-1.78,.3],[6.58,-1.71,.35],[5.64,-1.96,.2],[5.85,-1.96,.2],[5.89,-2.06,.2],[6.48,-2.06,.2],[6.62,-1.96,.2],[6.93,-1.85,.2],[6.96,-2.14,.2],[7.10,-2.14,.2],[7.21,-2.08,.3],[7.14,-1.72,.3],[7.21,-1.67,.3],[7.33,-1.62,.3],[7.95,-1.79,.2],[8.48,-1.85,.05],[9.15,-1.68,.2],[9.15,-1.36,.2],[8.83,-1.50,.3],[9.35,-1.50,.15],[10.03,-1.46,.2],[10.03,-1.51,.2],[10.38,-1.32,.02],[10.70,-1.64,.2],[11.36,-1.67,.02],[10.48,-2.02,.25],[11.50,-1.43,.4],[11.36,-1.31,.35],[11.74,-1.40,.2],[11.43,-1.18,.3],[11.22,-1.11,.2],[9.67,-1.13,.2],[8.76,-1.17,.4],[8.09,-1.18,-.05],[8.48,-1.11,.25],[8.06,-1.08,.2],[7.71,-1.48,.2],[7.43,-1.50,.25],[7.28,-1.27,.25],[6.86,-1.16,.2],[6.58,-1.08,.15],[6.23,-1.22,.3],[5.95,-1.32,.25],[5.74,-1.48,.35],[5.88,-1.43,.3],[6.02,-1.40,.3],[5.39,-1.35,.15],[5.18,-1.43,.1],[4.96,-1.48,.35],[5.03,-1.38,.35],[4.43,-1.13,.25],[4.26,-.95,.1],[3.84,-.82,.15],[3.28,-.84,.15],[2.64,-.79,.15],[2.08,-.82,.1],[1.52,-.79,.1],[1.10,-.79,.05],[.68,-.71,.25],[.40,-.84,.1],[.40,-.66,.2],[10.17,-.90,.2],[10.45,-.92,.1],[10.80,-.84,.05],[10.80,-.75,.2],[9.93,-1.03,.15],[9.53,-.95,.2],[9.18,-1.0,.05],[9.32,-.79,.3],[8.48,-.95,.2],[7.92,-.90,.2],[7.64,-.98,.2],[11.57,-.50,.1],[11.85,-.37,.05],[11.22,-.44,.05],[12.30,-.20,.02],[11.97,.385,.02],[11.78,.545,.02],[11.53,.53,.02],[11.26,.52,.02],[10.84,.51,.1],[9.98,.51,.02],[9.14,.56,.02],[8.13,.57,.02],[6.34,.59,.02],[4.54,.57,.05],[3.32,.59,.05],[.82,.63,.05],[.18,.61,.05],[12.0,.01,.02],[11.85,-.04,.02],
[1.24,.24,.4],[2.08,.33,.45],[3.38,.065,.4],[3.80,.465,.35],[7.59,-.245,.35],[.58,-.12,.35],[6.09,-.37,.35],[4.47,-.69,.4],[4.89,-.94,.45],[5.41,.43,.3],[2.50,.59,.35],[1.45,.385,.2],[2.86,-.26,.2],[8.34,-.31,.2],[6.65,-.04,-.1]
];
const ageRidgesPred = [
[.12,[[.79,.305],[1.53,.225]]],
[-.03,[[1.80,.145],[3.43,.225],[5.05,.25],[6.41,.332],[8.31,.385],[9.25,.305]]],
[.1,[[.72,.145],[1.67,.09]]],[-.04,[[1.67,.065],[9.25,.145]]],
[.08,[[.65,-.04],[1.53,-.095]]],[-.03,[[1.53,-.095],[9.66,-.07]]],
[-.02,[[-.10,-.175],[1.40,-.23]]],[.0,[[1.40,-.255],[5.60,-.255]]],[.05,[[5.60,-.23],[9.93,-.23]]],
[.02,[[2.07,-.335],[4.78,-.37]]],[.14,[[5.05,-.37],[7.49,-.37]]],[.0,[[7.49,-.37],[9.93,-.36]]],
[.14,[[5.05,-.52],[6.14,-.576],[7.76,-.495]]],[.0,[[7.76,-.495],[9.93,-.44]]],
[.18,[[4.78,-.736],[5.87,-.736]]],[.19,[[4.65,-.923],[5.80,-.923]]],[.2,[[4.78,-1.11],[5.60,-1.083]]],
[-.02,[[.04,-.175],[-.37,-.31]]],[-.02,[[-1.04,-.495],[-.50,-.39]]]
];
const agePointsPred = [
[.88,.52,.0],[1.15,.465,.0],[1.40,.45,.0],[3.12,.51,-.03],[4.78,.535,-.03],[5.76,.455,-.03],[7.28,.59,-.03],[9.46,.43,-.03],[9.62,.305,-.03],[9.73,.13,-.02],[-1.15,-.165,-.02],[-.75,-.095,-.02],[-.66,-.20,-.02],[-.10,-.53,0],[-1.18,-.52,-.02],[-.98,-.565,-.02],[1.23,-.61,.15],[1.69,-.68,.15],[1.94,-.65,.1],[2.21,-.81,.15],[.88,-.84,.1],[.96,-.89,.15],[2.72,-.74,.15],[3.08,-.74,.15],[3.32,-.75,.15],[3.22,-.82,.2],[3.97,-.82,.15],[2.98,-1.0,.22],[3.16,-.97,.22],[3.59,-.91,.22],[3.50,-1.03,.22],[3.32,-1.09,.22],[3.70,-1.08,.22],[3.90,-1.09,.22],[3.77,-1.14,.22],[3.43,-1.23,.22],[3.97,-1.26,.24],[4.24,-1.0,.18],[4.38,-1.20,.22],[4.51,-1.30,.24],[4.24,-1.40,.24],[4.11,-1.46,.24],[4.04,-1.55,.25],[4.28,-1.62,.25],[4.49,-1.54,.25],[4.65,-1.49,.25],[4.82,-1.71,.25],[4.92,-1.67,.25],[5.28,-1.73,.25],[5.49,-1.72,.25],[5.64,-1.71,.25],[6.03,-1.68,.25],[6.30,-1.59,.25],[5.80,-1.67,.25],[5.19,-1.62,.25],[5.43,-1.59,.25],[5.66,-1.56,.25],[5.93,-1.48,.25],[6.10,-1.46,.25],[6.41,-1.46,.25],[6.59,-1.50,.25],[6.82,-1.45,.25],[6.88,-1.36,.24],[7.18,-1.40,.24],[7.49,-1.45,.25],[7.82,-1.48,.25],[7.36,-1.64,.25],[6.92,-1.75,.25],[7.68,-1.22,.2],[9.09,-.95,.2],[9.09,-1.20,.2],[7.87,-1.0,.2],[8.27,-1.01,.2],[8.40,-.98,.2],[8.47,-.87,.15],[8.74,-.75,.1],[10.18,-.84,.15],[10.31,-.53,.03],[9.15,-.61,.02],[8.98,-.58,.02],[9.80,-.58,.02],[7.36,-.82,.15],[7.56,-.80,.15],[7.76,-.89,.15],[7.02,-.84,.18],[6.79,-.91,.2],[7.02,-.96,.2],[6.41,-1.04,.2],[6.23,-.98,.2],[6.95,-1.07,.2],[6.82,-1.08,.2],[6.75,-1.16,.22],[6.52,-1.16,.2],[6.52,-1.27,.22],[5.98,-1.25,.22],[5.73,-1.19,.2],[6.21,-1.13,.2],[6.0,-1.10,.2],[6.55,-1.36,.24],[6.30,-1.26,.22],[7.22,-.68,.1],[7.56,-.58,.05],[7.09,-.72,.1],[8.04,-.74,.05],[8.24,-.68,.05],[6.68,-.71,.15],[6.41,-.79,.15],[6.27,-.84,.15],[5.05,-1.32,.24],[4.78,-1.38,.24],[4.85,-1.46,.25],[4.51,-1.14,.22],[4.65,-1.24,.22],[5.39,-1.27,.22],[5.53,-1.32,.24],[5.66,-1.38,.24],[5.05,-1.48,.25],[5.32,-1.46,.25],[10.27,-.12,-.02],[10.54,-.20,-.02],[10.68,-.31,-.02],[10.47,-.37,-.02],[10.14,-.42,-.02],[9.80,-.47,-.02]
];
const agePointsMasked = agePointsPred;
const ageRidgesMasked = ageRidgesPred;

// ---- layout
const W=1234,H=1253;
const colX=[125,445,765], panelW=320, rowY=[51,456,861], panelH=[311,311,312];
const cbX=1085, cbW=17;
const FONT="'Liberation Serif','DejaVu Serif',serif", TICKFS=29;

const svg=d3.select("#chart").append("svg").attr("width",W).attr("height",H).attr("viewBox",`0 0 ${W} ${H}`).style("font-family",FONT).style("fill","#000");
const minus=s=>String(s).replace("-","\u2212");
const defs=svg.append("defs");
const soft=defs.append("filter").attr("id","soft").attr("filterUnits","userSpaceOnUse").attr("x",-20).attr("y",-20).attr("width",360).attr("height",360);
soft.append("feGaussianBlur").attr("stdDeviation",3.2);
const softer=defs.append("filter").attr("id","softer").attr("filterUnits","userSpaceOnUse").attr("x",-20).attr("y",-20).attr("width",360).attr("height",360);
softer.append("feGaussianBlur").attr("stdDeviation",.8);

function makeAxes(g,x,y,w,h,xTicks,yTicks,fmtX,fmtY,showY){
  const style=a=>{a.attr("font-family",FONT).attr("font-size",TICKFS);a.selectAll("line").attr("stroke","#000").attr("stroke-width",1.6);a.selectAll("path.domain").attr("stroke","none");a.selectAll("text").attr("fill","#000");};
  g.append("g").attr("transform",`translate(0,${h})`).call(d3.axisBottom(x).tickValues(xTicks).tickSize(-12).tickPadding(8.5).tickFormat(fmtX)).call(style);
  g.append("g").call(d3.axisTop(x).tickValues(xTicks).tickSize(-12).tickFormat("")).call(style);
  g.append("g").call(d3.axisLeft(y).tickValues(yTicks).tickSize(-12).tickPadding(11).tickFormat(showY?fmtY:"")).call(style);
  g.append("g").attr("transform",`translate(${w},0)`).call(d3.axisRight(y).tickValues(yTicks).tickSize(-12).tickFormat("")).call(style);
  g.append("rect").attr("width",w).attr("height",h).attr("fill","none").attr("stroke","#000").attr("stroke-width",1.8);
}
let panelCount=0;
function panel(col,row){
  const g=svg.append("g").attr("transform",`translate(${colX[col]},${rowY[row]})`);
  const id=`clip${row}${col}`;
  defs.append("clipPath").attr("id",id).append("rect").attr("width",panelW).attr("height",panelH[row]);
  const plot=g.append("g").attr("clip-path",`url(#${id})`);
  return {g,plot,axes:g.append("g")};
}
const line=(x,y)=>d3.line().x(d=>x(d[0])).y(d=>y(d[1]));
function drawScatter(plot,x,y,color,edge,ridges,points,r,sw){
  const meanC=d3.mean(edge,d=>d[2]);
  const outline=line(x,y)(edge)+"Z";
  const id=`cloud${panelCount++}`;
  defs.append("clipPath").attr("id",id).append("path").attr("d",outline);
  plot.append("path").attr("d",outline).attr("fill",color(meanC));
  plot.append("g").attr("clip-path",`url(#${id})`).append("g").attr("filter","url(#soft)").selectAll("path").data(ridges).join("path")
    .attr("d",d=>line(x,y).curve(d3.curveCatmullRom)(d[1])).attr("fill","none").attr("stroke",d=>color(d[0]))
    .attr("stroke-width",sw).attr("stroke-linecap","round").attr("stroke-linejoin","round");
  plot.append("g").selectAll("circle").data(edge.concat(points)).join("circle")
    .attr("cx",d=>x(d[0])).attr("cy",d=>y(d[1])).attr("r",r).attr("fill",d=>color(d[2]));
}
const mhColor=d3.scaleSequential(d3.interpolateViridis).domain([-4,1]);
const countColor=d3.scaleSequential(d3.interpolateViridis).domain([5,1047]);
const alphaColor=d3.scaleSequential(d3.interpolateViridis).domain([-.5,.75]);

// Row 1
[[hrEdgeLabels,hrRidgesLabels,hrPointsLabels,3.3],[hrEdgePred,hrRidgesPred,hrPointsPred,3.3],[hrEdgeMasked,hrRidgesMasked,hrPointsMasked,2.9]].forEach(([edge,rid,pts,r],i)=>{
  const p=panel(i,0);
  const x=d3.scaleLinear().domain([8000,3000]).range([0,panelW]);
  const y=d3.scaleLinear().domain([5.5,-0.5]).range([panelH[0],0]);
  drawScatter(p.plot,x,y,mhColor,edge,rid,pts,r,14);
  makeAxes(p.axes,x,y,panelW,panelH[0],teffTicks,loggTicks,d=>d,d=>d,i===0);
});
// Row 2
[[alphaCoreLabels,alphaPointsLabels,countsLabels,alphaBinsLabels],[alphaCorePred,alphaPointsPred,countsPred,alphaBinsPred],[alphaCoreMasked,alphaPointsMasked,countsMasked,alphaBinsMasked]].forEach(([core,pts,counts,bins],i)=>{
  const p=panel(i,1);
  const x=d3.scaleLinear().domain([-4,1]).range([0,panelW]);
  const y=d3.scaleLinear().domain([-.75,1.25]).range([panelH[1],0]);
  p.plot.append("g").selectAll("path").data(core).join("path").attr("d",d=>line(x,y)(d))
    .attr("fill","#000").attr("stroke","#000").attr("stroke-width",6.5).attr("stroke-linecap","round").attr("stroke-linejoin","round");
  p.plot.append("g").selectAll("circle").data(pts).join("circle").attr("cx",d=>x(d[0])).attr("cy",d=>y(d[1])).attr("r",3.2).attr("fill","#000");
  const dx=.08,dy=.032;
  const cells=counts.flatMap((row,ri)=>row.map((c,ci)=>({c,ri,ci})).filter(d=>d.c>0));
  p.plot.append("g").attr("filter","url(#softer)").selectAll("rect").data(cells).join("rect")
    .attr("x",d=>x(bins.x0+d.ci*dx)).attr("y",d=>y(bins.y0-d.ri*dy))
    .attr("width",x(dx)-x(0)+.4).attr("height",y(0)-y(dy)+.4).attr("fill",d=>countColor(d.c));
  makeAxes(p.axes,x,y,panelW,panelH[1],mhTicks,alphaTicks,minus,d=>minus(d3.format(".1f")(d)),i===0);
});
// Row 3
[[ageEdgeLabels,ageRidgesLabels,agePointsLabels,[-.6,12.9]],[ageEdgePred,ageRidgesPred,agePointsPred,[-1.79,11.22]],[ageEdgeMasked,ageRidgesMasked,agePointsMasked,[-1.79,11.22]]].forEach(([edge,rid,pts,dom],i)=>{
  const p=panel(i,2);
  const x=d3.scaleLinear().domain(dom).range([0,panelW]);
  const y=d3.scaleLinear().domain([-4,1]).range([panelH[2],0]);
  drawScatter(p.plot,x,y,alphaColor,edge,rid,pts,3.2,14);
  makeAxes(p.axes,x,y,panelW,panelH[2],ageTicks,mhYTicks,d=>d,minus,true);
});

// Colorbars
function colorbar(row,color,domain,ticks,fmt){
  const h=panelH[row];
  const g=svg.append("g").attr("transform",`translate(${cbX},${rowY[row]})`);
  const s=d3.scaleLinear().domain(domain).range([h,0]);
  g.selectAll("rect.c").data(d3.range(0,h)).join("rect").attr("class","c").attr("x",0).attr("y",d=>d).attr("width",cbW).attr("height",1.2)
    .attr("fill",d=>color(s.invert(d+.5)));
  g.append("rect").attr("width",cbW).attr("height",h).attr("fill","none").attr("stroke","#222").attr("stroke-width",1.5);
  const a=g.append("g").attr("transform",`translate(${cbW},0)`).call(d3.axisRight(s).tickValues(ticks).tickSize(-13).tickPadding(6).tickFormat(fmt));
  a.attr("font-family",FONT).attr("font-size",TICKFS);
  a.selectAll("line").attr("stroke","#000").attr("stroke-width",1.5);
  a.selectAll("path.domain").attr("stroke","none");
  a.selectAll("text").attr("fill","#000").attr("x",6);
}
colorbar(0,mhColor,[-4,1],cbMhTicks,minus);
colorbar(1,countColor,[5,1047],cbCountTicks,d=>d);
colorbar(2,alphaColor,[-.5,.75],cbAlphaTicks,d=>minus(d3.format(".2f")(d)));

// Text labels
function label(x,y,parts,opts={}){
  const t=svg.append("text").attr("font-size",opts.fs||29).attr("text-anchor","middle").attr("fill","#000");
  if(opts.rot) t.attr("transform",`translate(${x},${y}) rotate(-90)`); else t.attr("x",x).attr("y",y);
  if(opts.len){t.attr("textLength",opts.len).attr("lengthAdjust","spacing");}
  let prev=0;
  parts.forEach(p=>{
    const s=t.append("tspan").text(p.t);
    if(p.i) s.attr("font-style","italic");
    const sub=p.sub?7:0;
    if(sub!==prev){s.attr("dy",sub-prev);prev=sub;}
    if(p.sub) s.attr("font-size",20);
  });
  return t;
}
const cx=[284,604,925];
titles.forEach((s,i)=>label(cx[i],35,[{t:s}],{fs:33,len:[100,148,341][i]}));
cx.forEach(c=>{
  label(c,432,[{t:"T",i:1},{t:"eff",i:1,sub:1},{t:"  [K]"}],{len:100});
  label(c-2,838,[{t:"[M/H]"}],{len:78});
  label(c,1243,[{t:"\u03c4",i:1},{t:"\u2217",sub:1},{t:"  [Gyr]"}],{len:98});
});
label(86,205,[{t:"log "},{t:"g",i:1}],{rot:1});
label(37,611,[{t:"["},{t:"\u03b1",i:1},{t:"/M]"}],{rot:1});
label(61,1019,[{t:"[M/H]"}],{rot:1,len:78});
label(1182,208,[{t:"[M/H]"}],{rot:1,len:78});
label(1199,612,[{t:"N"},{t:"stars",i:1,sub:1}],{rot:1});
label(1220,1019,[{t:"["},{t:"\u03b1",i:1},{t:"/M]"}],{rot:1});
</script></body></html>
